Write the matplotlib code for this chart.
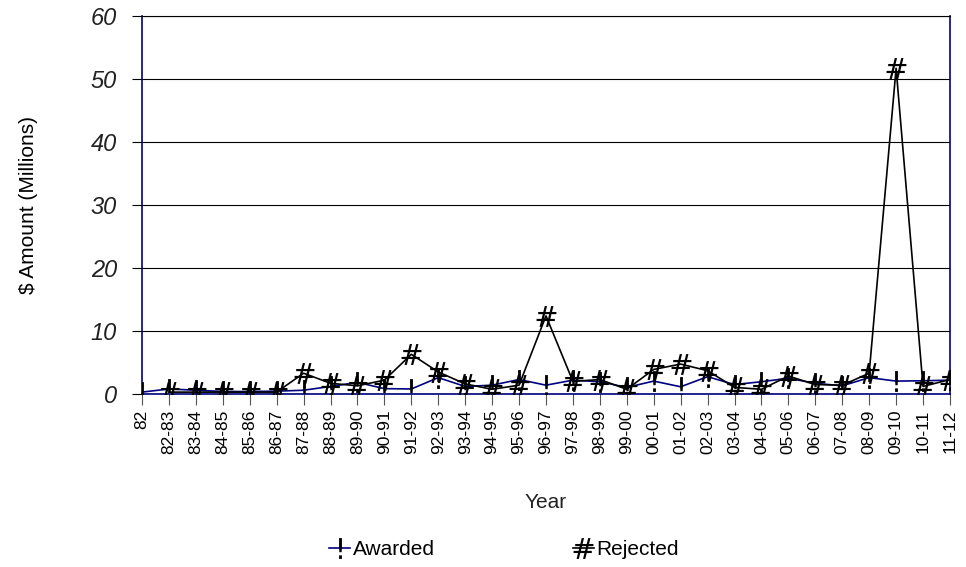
import matplotlib
matplotlib.use("Agg")
import matplotlib.pyplot as plt
import numpy as np

years = ["82", "82-83", "83-84", "84-85", "85-86", "86-87", "87-88", "88-89", "89-90",
         "90-91", "91-92", "92-93", "93-94", "94-95", "95-96", "96-97", "97-98", "98-99",
         "99-00", "00-01", "01-02", "02-03", "03-04", "04-05", "05-06", "06-07", "07-08",
         "08-09", "09-10", "10-11", "11-12"]
awarded = [0.3, 0.8, 0.6, 0.4, 0.4, 0.45, 0.6, 1.2, 1.85, 0.85, 0.8, 2.6, 1.2, 1.4, 2.3,
           1.4, 2.2, 1.95, 1.05, 2.05, 1.15, 2.75, 1.5, 1.95, 2.5, 1.7, 1.3, 2.6, 2.05, 2.1, 2.2]
rejected = [np.nan, 0.3, 0.3, 0.3, 0.3, 0.3, 3.3, 1.7, 1.3, 2.2, 6.3, 3.5, 1.6, 0.75, 1.4,
            12.4, 2.0, 2.3, 0.75, 3.9, 4.75, 3.7, 1.05, 0.75, 2.85, 1.5, 1.4, 3.3, 51.7, 1.2, 2.3]
yticks = [0, 10, 20, 30, 40, 50, 60]

navy = "#000080"
fig = plt.figure(figsize=(9.66, 5.67), dpi=100)
ax = fig.add_axes([0.147, 0.3051, 0.8364, 0.6667])
x = np.arange(len(years))

ax.plot(x, awarded, color=navy, lw=1.2, marker="$!$", markersize=15,
        markeredgecolor="black", markerfacecolor="black", markeredgewidth=0,
        label="Awarded", zorder=3)
ax.plot(x, rejected, color="black", lw=1.2, marker=r"$\#$", markersize=15,
        markeredgecolor="black", markerfacecolor="black", markeredgewidth=0,
        label="Rejected", zorder=4)

ax.set_xlim(0, len(years) - 1)
ax.set_ylim(0, 60)
ax.set_yticks(yticks)
ax.set_yticklabels([str(v) for v in yticks], fontsize=17, fontstyle="italic",
                   family="Liberation Sans", color="#222222")
ax.set_xticks(x)
ax.set_xticklabels(years, rotation=90, fontsize=12.5, family="Liberation Sans")
ax.tick_params(axis="x", length=8, width=0.8, color="#555555", pad=3)
ax.tick_params(axis="y", length=7, width=0.8, color="black", pad=11)
ax.grid(axis="y", color="black", lw=0.8)
ax.set_axisbelow(True)
for s in ["left", "right", "bottom"]:
    ax.spines[s].set_color(navy)
    ax.spines[s].set_linewidth(1.2)
ax.spines["top"].set_color("black")
ax.spines["top"].set_linewidth(0.8)

ax.set_ylabel("$ Amount (Millions)", fontsize=15, family="Liberation Sans", labelpad=38)
ax.set_xlabel("Year", fontsize=15, family="Liberation Sans", labelpad=28,
              color="#222222")

leg = fig.legend(loc="center", bbox_to_anchor=(0.522, 0.03), ncol=2, frameon=False,
                 prop={"family": "Liberation Sans", "size": 15},
                 handlelength=1.0, handletextpad=0.15, columnspacing=6.6)

fig.savefig("out.png", dpi=100)
